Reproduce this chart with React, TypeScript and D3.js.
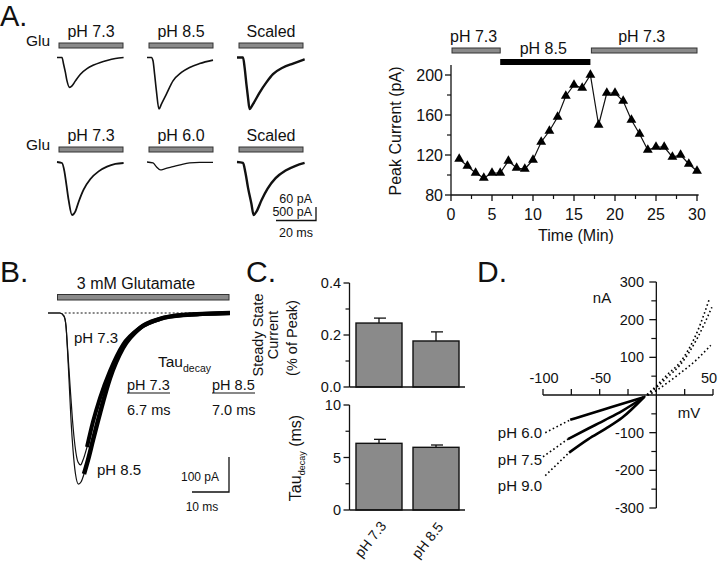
import React from 'react';
import * as d3 from 'd3';

const FONT = '"Liberation Sans", Arial, Helvetica, sans-serif';

// ---------------- Panel A (left): example traces (t in ms, I in pA) ----------------
const topLabels = ['pH 7.3', 'pH 8.5', 'Scaled'];
const bottomLabels = ['pH 7.3', 'pH 6.0', 'Scaled'];

const top73T = [0, 2.5, 3.3, 4.2, 5, 6.3, 7.5, 9.2, 11.7, 15, 18.3, 21.7, 25, 29.2, 33.3];
const top73I = [0, 0, -31, -69, -108, -138, -131, -108, -77, -51, -35, -23, -14, -5, 0];
const top85T = [0, 2.2, 3, 3.8, 4.7, 6, 7.2, 9.7, 13, 17.2, 21.3, 26.3, 33];
const top85I = [0, 0, -15, -77, -154, -238, -215, -169, -108, -69, -46, -28, -12];
const topScT = [0, 3, 3.8, 4.7, 5.5, 6.3, 8, 11.3, 14.7, 18, 23, 28, 33.8];
const topScI = [0, 0, -46, -123, -185, -238, -215, -162, -115, -77, -46, -28, -8];

const bot73T = [0, 2.5, 3.7, 4.7, 5.8, 7.5, 9.2, 10.8, 13.3, 16.7, 20.8, 25, 29.2, 33.3];
const bot73I = [0, -40, -380, -920, -1540, -2150, -2000, -1620, -1120, -690, -380, -190, -80, -40];
const bot60T = [0, 3, 4.7, 6.7, 8.8, 13, 17.2, 21.3, 26.3, 33];
const bot60I = [0, -38, -192, -320, -280, -192, -104, -38, -12, -12];
const botScT = [0, 3, 4.2, 5.5, 7.2, 8.3, 9.8, 12.3, 15.3, 19.3, 24.3, 29.3, 33.8];
const botScI = [0, -38, -424, -1040, -1694, -2150, -2000, -1540, -1078, -654, -346, -154, -38];

// ---------------- Panel A (right): peak current vs time ----------------
const minutes = [1, 2, 3, 4, 5, 6, 7, 8, 9, 10, 11, 12, 13, 14, 15, 16, 17, 18, 19, 20, 21, 22, 23, 24, 25, 26, 27, 28, 29, 30];
const peakCurrent = [116, 109, 102, 97, 102, 102, 114, 107, 106, 115, 133, 144, 158, 179, 190, 187, 200, 150, 182, 182, 174, 155, 141, 125, 128, 128, 118, 120, 111, 104];
const periodLabels = ['pH 7.3', 'pH 8.5', 'pH 7.3'];
const periodStart = [0, 6, 17];
const periodEnd = [6, 17, 30];
const timeTicks = [0, 5, 10, 15, 20, 25, 30];
const peakTicks = [80, 120, 160, 200];

// ---------------- Panel B: 3 mM glutamate traces ----------------
const b73T = [0, 3.24, 4.32, 4.86, 5.32, 5.95, 6.62, 7.3, 8.11, 8.78, 9.46, 10.54, 12.16, 14.05, 16.76, 20.27, 24.86, 30.27, 36.49, 49.19];
const b73I = [0, 0, -9, -37, -106, -206, -306, -380, -426, -434, -420, -383, -311, -243, -166, -91, -43, -17, -6, 0];
const b85T = [0, 3.24, 4.32, 4.86, 5.27, 5.68, 6.22, 6.76, 7.43, 8.24, 8.92, 9.73, 10.81, 12.16, 14.05, 16.76, 20.27, 24.86, 30.27, 36.49, 49.19];
const b85I = [0, 0, -9, -37, -106, -191, -306, -391, -460, -489, -483, -460, -420, -363, -286, -186, -100, -43, -17, -6, 0];

// ---------------- Panel C: bars ----------------
const cCategories = ['pH 7.3', 'pH 8.5'];
const steadyState = [0.246, 0.177];
const steadyErr = [0.019, 0.035];
const tauDecay = [6.35, 5.97];
const tauErr = [0.38, 0.22];
const ssTicks = [0, 0.2, 0.4];
const ssMinor = [0.1, 0.3];
const tauTicks = [0, 5, 10];
const tauMinor = [2.5, 7.5];

// ---------------- Panel D: I-V relations (mV, nA) ----------------
const ivLabels = ['pH 6.0', 'pH 7.5', 'pH 9.0'];
const iv60Solid = [[-76, -66], [-60, -51], [-45, -37], [-30, -23], [-11, -6]];
const iv75Solid = [[-78, -117], [-60, -89], [-45, -66], [-30, -42], [-11, -6]];
const iv90Solid = [[-77, -153], [-60, -117], [-45, -90], [-30, -60], [-11, -6]];
const iv60Neg = [[-98, -100], [-76, -66]];
const iv75Neg = [[-100, -164], [-78, -117]];
const iv90Neg = [[-98, -214], [-77, -153]];
const iv60Pos = [[-11, -6], [0, 12], [10, 33], [21, 58], [36, 95], [48, 132]];
const iv75Pos = [[-11, -6], [0, 20], [10, 48], [21, 80], [36, 150], [49, 233]];
const iv90Pos = [[-11, -6], [0, 24], [10, 55], [21, 87], [36, 167], [47, 257]];
const mvTicks = [-100, -75, -50, -25, 25, 50];
const mvLabels = [-100, -50, 50];
const naTicks = [-300, -200, -100, 100, 200, 300];
const naMinor = [-250, -150, -50, 50, 150, 250];

const zip = (t: number[], v: number[]) => t.map((x, i) => [x, v[i]] as [number, number]);

export default function App() {
  const txt = { fontFamily: FONT, fill: '#111' } as const;
  const barFill = '#8a8a8a';

  // Panel A left scales
  const txA = d3.scaleLinear().domain([0, 35]).range([0, 70]);
  const yTop = d3.scaleLinear().domain([0, -240]).range([0, 52]);
  const yBot = d3.scaleLinear().domain([0, -2150]).range([0, 53]);
  const lineTop = d3.line<[number, number]>().x(d => txA(d[0])).y(d => yTop(d[1])).curve(d3.curveMonotoneX);
  const lineBot = d3.line<[number, number]>().x(d => txA(d[0])).y(d => yBot(d[1])).curve(d3.curveMonotoneX);
  const traceX = [57, 147, 237];
  const topBase = 57.5;
  const botBase = 162;
  const topTraces = [zip(top73T, top73I), zip(top85T, top85I), zip(topScT, topScI)];
  const botTraces = [zip(bot73T, bot73I), zip(bot60T, bot60I), zip(botScT, botScI)];
  const topW = [1.6, 1.6, 2.4];
  const botW = [1.8, 1.3, 2.4];

  // Panel A right
  const xT = d3.scaleLinear().domain([0, 30]).range([451, 697]);
  const yT = d3.scaleLinear().domain([80, 200]).range([195, 75]);
  const peakLine = d3.line<number>().x((_, i) => xT(minutes[i])).y(d => yT(d));
  const tri = d3.symbol().type(d3.symbolTriangle).size(42)();

  // Panel B
  const xB = d3.scaleLinear().domain([0, 10]).range([48, 85]);
  const yB = d3.scaleLinear().domain([0, -100]).range([313, 348]);
  const lineB = d3.line<[number, number]>().x(d => xB(d[0])).y(d => yB(d[1])).curve(d3.curveMonotoneX);
  const b73 = zip(b73T, b73I);
  const b85 = zip(b85T, b85I);

  // Panel C
  const xC = d3.scaleBand().domain(cCategories).range([350, 465]).paddingInner(0.193).paddingOuter(0.105);
  const ySS = d3.scaleLinear().domain([0, 0.4]).range([387, 283]);
  const yTau = d3.scaleLinear().domain([0, 10]).range([510, 405]);
  const axC = 349.5;

  // Panel D
  const xD = d3.scaleLinear().domain([-100, 50]).range([543, 713]);
  const yD = d3.scaleLinear().domain([-300, 300]).range([508, 282]);
  const lineD = d3.line<number[]>().x(d => xD(d[0])).y(d => yD(d[1])).curve(d3.curveMonotoneX);
  const ivLabelY = [438, 465, 491];

  const barGroup = (vals: number[], errs: number[], y: d3.ScaleLinear<number, number>) =>
    cCategories.map((c, i) => {
      const x0 = xC(c)!;
      const w = xC.bandwidth();
      const cx = x0 + w / 2;
      return (
        <g key={c}>
          <line x1={cx} x2={cx} y1={y(vals[i])} y2={y(vals[i] + errs[i])} stroke="#111" strokeWidth={1.3} />
          <line x1={cx - 5} x2={cx + 7} y1={y(vals[i] + errs[i])} y2={y(vals[i] + errs[i])} stroke="#111" strokeWidth={1.3} />
          <rect x={x0} y={y(vals[i])} width={w} height={y(0) - y(vals[i])} fill={barFill} stroke="#111" strokeWidth={1.4} />
        </g>
      );
    });

  return (
    <svg width={720} height={564} style={{ position: 'absolute', left: 0, top: 0, background: '#fff' }}>
      <rect width={720} height={564} fill="#fff" />
      {/* Panel letters */}
      <text x={0} y={26} fontSize={29} {...txt}>A.</text>
      <text x={0} y={282} fontSize={30} {...txt}>B.</text>
      <text x={246} y={282} fontSize={30} {...txt}>C.</text>
      <text x={477} y={282} fontSize={30} {...txt}>D.</text>

      {/* ---------- Panel A left ---------- */}
      <text x={26} y={46} fontSize={15.5} {...txt}>Glu</text>
      <text x={26} y={150} fontSize={15.5} {...txt}>Glu</text>
      {traceX.map((x0, i) => (
        <g key={'top' + i}>
          <rect x={x0 + txA(1)} y={43} width={txA(32)} height={5} fill={barFill} stroke="#333" strokeWidth={1} />
          <text x={x0 + txA(17)} y={37} fontSize={16} textAnchor="middle" {...txt}>{topLabels[i]}</text>
          <path d={lineTop(topTraces[i])!} transform={`translate(${x0},${topBase})`} fill="none" stroke="#111" strokeWidth={topW[i]} />
        </g>
      ))}
      {traceX.map((x0, i) => (
        <g key={'bot' + i}>
          <rect x={x0 + txA(1)} y={147} width={txA(32)} height={5} fill={barFill} stroke="#333" strokeWidth={1} />
          <text x={x0 + txA(17)} y={141} fontSize={16} textAnchor="middle" {...txt}>{bottomLabels[i]}</text>
          <path d={lineBot(botTraces[i])!} transform={`translate(${x0},${botBase})`} fill="none" stroke="#111" strokeWidth={botW[i]} />
        </g>
      ))}
      {/* scale bar A */}
      <text x={312} y={203} fontSize={12.5} textAnchor="end" {...txt}>60 pA</text>
      <text x={312} y={216} fontSize={12.5} textAnchor="end" {...txt}>500 pA</text>
      <path d={`M316,207 V220.5 H${316 - txA(20)}`} fill="none" stroke="#111" strokeWidth={1.3} />
      <text x={296} y={237} fontSize={12.5} textAnchor="middle" {...txt}>20 ms</text>

      {/* ---------- Panel A right ---------- */}
      {periodLabels.map((lab, i) => (
        <g key={'per' + i}>
          {i === 1 ? (
            <rect x={xT(periodStart[i])} y={59} width={xT(periodEnd[i]) - xT(periodStart[i])} height={6} fill="#000" />
          ) : (
            <rect x={xT(periodStart[i]) + 1} y={48} width={xT(periodEnd[i]) - xT(periodStart[i]) - 1} height={5} fill={barFill} stroke="#333" strokeWidth={1} />
          )}
          <text x={(xT(periodStart[i]) + xT(periodEnd[i])) / 2 - 2} y={i === 1 ? 54 : 42} fontSize={16} textAnchor="middle" {...txt}>{lab}</text>
        </g>
      ))}
      <line x1={xT(0)} x2={xT(0)} y1={yT(210)} y2={yT(80)} stroke="#111" strokeWidth={1.3} />
      <line x1={xT(0)} x2={xT(30.2)} y1={yT(80)} y2={yT(80)} stroke="#111" strokeWidth={1.3} />
      {peakTicks.map(v => (
        <g key={'py' + v}>
          <line x1={xT(0) - 6} x2={xT(0)} y1={yT(v)} y2={yT(v)} stroke="#111" strokeWidth={1.3} />
          <text x={443} y={yT(v) + 5.5} fontSize={16} textAnchor="end" {...txt}>{v}</text>
        </g>
      ))}
      {[100, 140, 180].map(v => (
        <line key={'pm' + v} x1={xT(0) - 4} x2={xT(0)} y1={yT(v)} y2={yT(v)} stroke="#111" strokeWidth={1.2} />
      ))}
      {timeTicks.map(v => (
        <g key={'tx' + v}>
          <line x1={xT(v)} x2={xT(v)} y1={yT(80)} y2={yT(80) + 6} stroke="#111" strokeWidth={1.3} />
          <text x={xT(v)} y={220} fontSize={16} textAnchor="middle" {...txt}>{v}</text>
        </g>
      ))}
      {timeTicks.slice(0, -1).map(v => (
        <line key={'tm' + v} x1={xT(v + 2.5)} x2={xT(v + 2.5)} y1={yT(80)} y2={yT(80) + 4} stroke="#111" strokeWidth={1.2} />
      ))}
      <text x={576} y={241} fontSize={16} textAnchor="middle" {...txt}>Time (Min)</text>
      <text transform="translate(401,131) rotate(-90)" fontSize={16} textAnchor="middle" {...txt}>Peak Current (pA)</text>
      <path d={peakLine(peakCurrent)!} fill="none" stroke="#111" strokeWidth={1.2} />
      {peakCurrent.map((v, i) => (
        <path key={'tri' + i} d={tri!} transform={`translate(${xT(minutes[i])},${yT(v)})`} fill="#000" />
      ))}

      {/* ---------- Panel B ---------- */}
      <text x={136} y={289} fontSize={16} textAnchor="middle" {...txt}>3 mM Glutamate</text>
      <rect x={57.5} y={294.5} width={171.5} height={5.5} fill={barFill} stroke="#333" strokeWidth={1} />
      <line x1={xB(4.5)} x2={229} y1={yB(0)} y2={yB(0)} stroke="#111" strokeWidth={1} strokeDasharray="2 2" />
      <path d={lineB(b73)!} fill="none" stroke="#111" strokeWidth={1.2} />
      <path d={lineB(b85)!} fill="none" stroke="#111" strokeWidth={1.2} />
      <path d={lineB(b73.filter(d => d[0] >= 10))!} fill="none" stroke="#000" strokeWidth={4} />
      <path d={lineB(b85.filter(d => d[0] >= 9.5))!} fill="none" stroke="#000" strokeWidth={4.5} />
      <text x={74} y={343} fontSize={15} {...txt}>pH 7.3</text>
      <text x={158} y={367} fontSize={15.5} {...txt}>Tau<tspan fontSize={10.5} dy={5}>decay</tspan></text>
      <text x={127} y={390} fontSize={14.5} {...txt}>pH 7.3</text>
      <line x1={127} x2={170} y1={393} y2={393} stroke="#111" strokeWidth={1} />
      <text x={212} y={390} fontSize={14.5} {...txt}>pH 8.5</text>
      <line x1={212} x2={255} y1={393} y2={393} stroke="#111" strokeWidth={1} />
      <text x={127} y={415} fontSize={14.5} {...txt}>6.7 ms</text>
      <text x={212} y={415} fontSize={14.5} {...txt}>7.0 ms</text>
      <text x={97} y={475} fontSize={15} {...txt}>pH 8.5</text>
      <path d={`M229,${yB(0) + 144} V${yB(0) + 144 + (yB(-100) - yB(0))} H${229 - (xB(10) - xB(0))}`} fill="none" stroke="#111" strokeWidth={1.3} />
      <text x={219} y={481} fontSize={12} textAnchor="end" {...txt}>100 pA</text>
      <text x={202} y={511} fontSize={12} textAnchor="middle" {...txt}>10 ms</text>

      {/* ---------- Panel C ---------- */}
      {barGroup(steadyState, steadyErr, ySS)}
      {barGroup(tauDecay, tauErr, yTau)}
      <line x1={axC} x2={axC} y1={ySS(0.4)} y2={ySS(0)} stroke="#111" strokeWidth={1.3} />
      <line x1={axC} x2={465} y1={ySS(0)} y2={ySS(0)} stroke="#111" strokeWidth={1.3} />
      <line x1={axC} x2={axC} y1={yTau(10)} y2={yTau(0)} stroke="#111" strokeWidth={1.3} />
      <line x1={axC} x2={465} y1={yTau(0)} y2={yTau(0)} stroke="#111" strokeWidth={1.3} />
      {ssTicks.map(v => (
        <g key={'ss' + v}>
          <line x1={axC - 6} x2={axC} y1={ySS(v)} y2={ySS(v)} stroke="#111" strokeWidth={1.3} />
          <text x={341} y={ySS(v) + 5} fontSize={14.5} textAnchor="end" {...txt}>{v.toFixed(1)}</text>
        </g>
      ))}
      {ssMinor.map(v => (
        <line key={'ssm' + v} x1={axC - 4} x2={axC} y1={ySS(v)} y2={ySS(v)} stroke="#111" strokeWidth={1.2} />
      ))}
      {tauTicks.map(v => (
        <g key={'tt' + v}>
          <line x1={axC - 6} x2={axC} y1={yTau(v)} y2={yTau(v)} stroke="#111" strokeWidth={1.3} />
          <text x={341} y={yTau(v) + 5} fontSize={14.5} textAnchor="end" {...txt}>{v}</text>
        </g>
      ))}
      {tauMinor.map(v => (
        <line key={'ttm' + v} x1={axC - 4} x2={axC} y1={yTau(v)} y2={yTau(v)} stroke="#111" strokeWidth={1.2} />
      ))}
      <text transform="translate(263,335) rotate(-90)" fontSize={14.5} textAnchor="middle" {...txt}>Steady State</text>
      <text transform="translate(278,335) rotate(-90)" fontSize={14.5} textAnchor="middle" {...txt}>Current</text>
      <text transform="translate(297,338) rotate(-90)" fontSize={14.5} textAnchor="middle" {...txt}>(% of Peak)</text>
      <text transform="translate(301,458) rotate(-90)" fontSize={16} textAnchor="middle" {...txt}>Tau<tspan fontSize={9} dy={4}>decay</tspan><tspan dy={-4}> (ms)</tspan></text>
      {cCategories.map((c, i) => (
        <text key={'cl' + c} transform={`translate(${xC(c)! + xC.bandwidth() / 2 + 8},${526 + i})rotate(-52)`} fontSize={14} textAnchor="end" {...txt}>{c}</text>
      ))}

      {/* ---------- Panel D ---------- */}
      <line x1={xD(-100)} x2={xD(50)} y1={yD(0)} y2={yD(0)} stroke="#111" strokeWidth={1.3} />
      <line x1={xD(0)} x2={xD(0)} y1={yD(300)} y2={yD(-300)} stroke="#111" strokeWidth={1.3} />
      {mvTicks.map(v => (
        <line key={'mv' + v} x1={xD(v)} x2={xD(v)} y1={yD(0)} y2={yD(0) - 6} stroke="#111" strokeWidth={1.3} />
      ))}
      {mvLabels.map(v => (
        <text key={'mvl' + v} x={v === 50 ? 709 : xD(v) + 1} y={383} fontSize={14.5} textAnchor="middle" {...txt}>{v}</text>
      ))}
      {naTicks.map(v => (
        <g key={'na' + v}>
          <line x1={xD(0) - 7} x2={xD(0)} y1={yD(v)} y2={yD(v)} stroke="#111" strokeWidth={1.3} />
          <text x={644} y={yD(v) + 5} fontSize={14.5} textAnchor="end" {...txt}>{v}</text>
        </g>
      ))}
      {naMinor.map(v => (
        <line key={'nam' + v} x1={xD(0) - 5} x2={xD(0)} y1={yD(v)} y2={yD(v)} stroke="#111" strokeWidth={1.2} />
      ))}
      <text x={602} y={303} fontSize={15} textAnchor="middle" {...txt}>nA</text>
      <text x={689} y={418} fontSize={15} textAnchor="middle" {...txt}>mV</text>
      {[iv60Solid, iv75Solid, iv90Solid].map((d, i) => (
        <path key={'ivs' + i} d={lineD(d)!} fill="none" stroke="#000" strokeWidth={2.6} />
      ))}
      {[iv60Neg, iv75Neg, iv90Neg, iv60Pos, iv75Pos, iv90Pos].map((d, i) => (
        <path key={'ivd' + i} d={lineD(d)!} fill="none" stroke="#000" strokeWidth={1.6} strokeDasharray="1.6 2.6" />
      ))}
      {ivLabels.map((l, i) => (
        <text key={'ivl' + l} x={542} y={ivLabelY[i]} fontSize={15} textAnchor="end" {...txt}>{l}</text>
      ))}
    </svg>
  );
}
